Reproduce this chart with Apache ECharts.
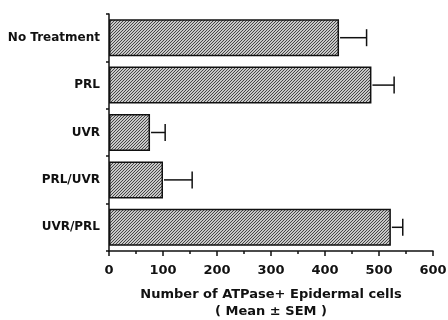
<!DOCTYPE html>
<html>
<head>
<meta charset="utf-8">
<script src="https://cdn.jsdelivr.net/npm/echarts@6/dist/echarts.min.js"></script>
<style>
  html, body { margin: 0; padding: 0; background: #fff; }
  #chart { width: 448px; height: 320px; }
</style>
</head>
<body>
<div id="chart"></div>
<script>
var categories = ['No Treatment', 'PRL', 'UVR', 'PRL/UVR', 'UVR/PRL'];
var means = [426, 486, 76, 100, 522];
var sems = [51, 42, 28, 54, 22];
var xTicks = [0, 100, 200, 300, 400, 500, 600];

// hatch pattern for the bars, 3px diagonal stripes
function makeHatch() {
    var c = document.createElement('canvas');
    c.width = 3;
    c.height = 3;
    var ctx = c.getContext('2d');
    var img = ctx.createImageData(3, 3);
    for (var y = 0; y < 3; y++) {
        for (var x = 0; x < 3; x++) {
            var k = (y * 3 + x) * 4;
            var v = ((x + y) % 3 === 2) ? 70 : 200;
            img.data[k] = v; img.data[k + 1] = v; img.data[k + 2] = v; img.data[k + 3] = 255;
        }
    }
    ctx.putImageData(img, 0, 0);
    return c;
}

var font = 'DejaVu Sans';
var chart = echarts.init(document.getElementById('chart'), null, {renderer: 'canvas'});

var errData = means.map(function(m, i) { return [m, i, m + sems[i]]; });

var option = {
    animation: false,
    grid: { left: 109, right: 15, top: 14, bottom: 69, containLabel: false, outerBoundsMode: 'none' },
    xAxis: {
        type: 'value',
        min: 0,
        max: 600,
        interval: 100,
        name: 'Number of ATPase+ Epidermal cells\n( Mean \u00b1 SEM )',
        nameLocation: 'middle',
        nameGap: 35,
        nameTextStyle: { fontFamily: font, fontWeight: 'bold', fontSize: 13, color: '#111', lineHeight: 17 },
        axisLine: { show: true, lineStyle: { color: '#111', width: 1.5 } },
        axisTick: { show: true, inside: false, length: 5, lineStyle: { color: '#111', width: 1.5 } },
        minorTick: { show: true, splitNumber: 2, length: 3, lineStyle: { color: '#111', width: 1.5 } },
        splitLine: { show: false },
        axisLabel: {
            fontFamily: font, fontWeight: 'bold', fontSize: 13, color: '#111', margin: 13,
            formatter: function(v) { return xTicks.indexOf(v) >= 0 ? String(v) : ''; }
        }
    },
    yAxis: {
        type: 'category',
        data: categories,
        inverse: true,
        axisLine: { show: true, lineStyle: { color: '#111', width: 1.5 } },
        axisTick: { show: true, length: 3, lineStyle: { color: '#111', width: 1.5 } },
        axisLabel: { fontFamily: font, fontWeight: 'bold', fontSize: 12, color: '#111', margin: 9 }
    },
    series: [
        {
            type: 'bar',
            data: means,
            barWidth: 37,
            itemStyle: {
                color: { image: makeHatch(), repeat: 'repeat' },
                borderColor: '#111',
                borderWidth: 1.5
            },
            z: 2
        },
        {
            type: 'custom',
            data: errData,
            z: 3,
            renderItem: function(params, api) {
                var y = api.value(1);
                var p0 = api.coord([api.value(0), y]);
                var p1 = api.coord([api.value(2), y]);
                var style = { stroke: '#111', lineWidth: 1.5 };
                return {
                    type: 'group',
                    children: [
                        { type: 'line', shape: { x1: p0[0] + 1, y1: p0[1], x2: p1[0], y2: p1[1] }, style: style },
                        { type: 'line', shape: { x1: p1[0], y1: p1[1] - 8.5, x2: p1[0], y2: p1[1] + 8.5 }, style: style }
                    ]
                };
            }
        }
    ]
};
chart.setOption(option);
</script>
</body>
</html>
